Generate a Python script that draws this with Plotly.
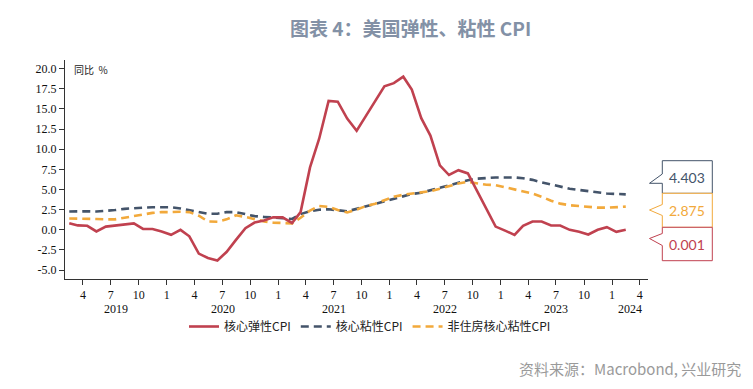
import pandas as pd
import plotly.graph_objects as go

# ---------------- data ----------------
start_month = "2019-02-01"
n_months = 61
dates = pd.date_range(start_month, periods=n_months, freq="MS") + pd.Timedelta(days=14)

core_flexible = [0.83, 0.55, 0.5, -0.2, 0.4, 0.53, 0.65, 0.8, 0.12, 0.1,
                 -0.2, -0.62, 0.0, -0.8, -2.95, -3.5, -3.8, -2.75, -1.25, 0.2,
                 0.9, 1.15, 1.55, 1.55, 0.85, 2.2, 7.75, 11.3, 16.0, 15.9,
                 13.8, 12.3, 14.1, 16.0, 17.8, 18.2, 19.0, 17.4, 13.85, 11.7,
                 8.0, 6.8, 7.4, 7.0, 4.8, 2.6, 0.4, -0.1, -0.62, 0.5,
                 1.03, 1.03, 0.54, 0.54, 0.0, -0.25, -0.58, 0.0, 0.33, -0.25,
                 0.001]
core_sticky = [2.27, 2.3, 2.3, 2.27, 2.35, 2.45, 2.6, 2.7, 2.75, 2.8,
               2.8, 2.8, 2.65, 2.45, 2.15, 2.0, 2.0, 2.2, 2.2, 1.9,
               1.7, 1.6, 1.55, 1.45, 1.35, 1.95, 2.3, 2.5, 2.55, 2.45,
               2.3, 2.6, 2.9, 3.2, 3.5, 3.8, 4.2, 4.45, 4.6, 4.9,
               5.3, 5.55, 5.9, 6.15, 6.35, 6.45, 6.5, 6.5, 6.5, 6.4,
               6.2, 5.9, 5.6, 5.35, 5.1, 4.95, 4.78, 4.65, 4.5, 4.45,
               4.403]
core_sticky_ex_shelter = [1.4, 1.4, 1.38, 1.35, 1.3, 1.3, 1.5, 1.75, 1.9, 2.1,
                          2.2, 2.2, 2.25, 2.2, 1.75, 1.05, 1.0, 1.3, 1.8, 1.6,
                          1.3, 1.05, 0.9, 0.85, 0.8, 1.5, 2.4, 2.95, 2.85, 2.45,
                          2.15, 2.5, 2.95, 3.25, 3.65, 4.1, 4.35, 4.5, 4.6, 4.8,
                          5.1, 5.4, 5.75, 5.95, 5.75, 5.6, 5.55, 5.3, 5.05, 4.8,
                          4.5, 4.1, 3.6, 3.25, 3.05, 2.95, 2.85, 2.75, 2.75, 2.85,
                          2.875]

series_names = ["核心弹性CPI", "核心粘性CPI", "非住房核心粘性CPI"]
series_colors = ["#C0414F", "#44546A", "#F2A93B"]

y_tick_vals = [-5.0, -2.5, 0.0, 2.5, 5.0, 7.5, 10.0, 12.5, 15.0, 17.5, 20.0]
y_tick_text = ["-5.0", "-2.5", "0.0", "2.5", "5.0", "7.5", "10.0", "12.5", "15.0", "17.5", "20.0"]
x_tick_vals = pd.date_range("2019-04-01", "2024-04-01", freq="3MS")
x_tick_text = [str(d.month) for d in x_tick_vals]
years = [2019, 2020, 2021, 2022, 2023, 2024]

x_range = ["2019-02-01", "2024-04-28"]
y_range = [-6.1, 21.07]

title_text = "图表 4：美国弹性、粘性 CPI"
source_text = "资料来源：Macrobond, 兴业研究"
unit_text = "同比  %"

# ---------------- figure ----------------
# page has an 8px body margin; lay out in page pixels
PAGE_W, PAGE_H, OFF = 753, 389, 8
W, H = PAGE_W - OFF, PAGE_H - OFF
PLOT_L, PLOT_R, PLOT_T, PLOT_B = 65, 648, 60, 279   # page pixels
ML, MT = PLOT_L - OFF, PLOT_T - OFF
MR, MB = W - (PLOT_R - OFF), H - (PLOT_B - OFF)
PW, PH = PLOT_R - PLOT_L, PLOT_B - PLOT_T

def px(xp):
    return (xp - PLOT_L) / PW

def py(yp):
    return (PLOT_B - yp) / PH

fig = go.Figure()
values = [core_flexible, core_sticky, core_sticky_ex_shelter]
dashes = ["solid", "8px,5px", "8px,5px"]
draw_order = [1, 2, 0]
for k in draw_order:
    fig.add_trace(go.Scatter(
        x=dates, y=values[k], mode="lines", name=series_names[k],
        line=dict(color=series_colors[k], width=2.6, dash=dashes[k]),
        legendrank=k + 1, hoverinfo="skip"))

serif = "Liberation Serif"
cjk = "Noto Sans CJK SC"

fig.update_layout(
    width=W, height=H,
    margin=dict(l=ML, r=MR, t=MT, b=MB, autoexpand=False),
    paper_bgcolor="white", plot_bgcolor="white",
    showlegend=True,
    legend=dict(orientation="h", x=px(370), xanchor="center", y=py(326.5), yanchor="middle",
                font=dict(family=cjk, size=12, color="#222"), itemwidth=30,
                tracegroupgap=0, bgcolor="rgba(0,0,0,0)"),
    xaxis=dict(type="date", range=x_range, tickvals=x_tick_vals, ticktext=x_tick_text,
               ticks="outside", ticklen=5, tickcolor="#333", showline=True,
               linecolor="#333", linewidth=1, showgrid=False, zeroline=False,
               tickfont=dict(family=serif, size=12, color="#111")),
    yaxis=dict(range=y_range, tickvals=y_tick_vals, ticktext=y_tick_text,
               ticks="outside", ticklen=5, tickcolor="#333", showline=True,
               linecolor="#333", linewidth=1, showgrid=False, zeroline=False,
               tickfont=dict(family=serif, size=12, color="#111")),
)

annotations = []
# year labels centred on each year's visible span
x0 = pd.Timestamp(x_range[0]); x1 = pd.Timestamp(x_range[1])
for yr in years:
    a = max(pd.Timestamp(f"{yr}-01-01"), x0)
    b = min(pd.Timestamp(f"{yr + 1}-01-01"), x1)
    mid = a + (b - a) / 2
    annotations.append(dict(x=mid, y=py(309), xref="x", yref="paper", text=str(yr),
                            showarrow=False, font=dict(family=serif, size=12, color="#111"),
                            xanchor="center", yanchor="middle"))

annotations.append(dict(x=px(72), y=py(69), xref="paper", yref="paper", text=unit_text,
                        showarrow=False, xanchor="left", yanchor="middle",
                        font=dict(family=cjk, size=10, color="#222")))
annotations.append(dict(x=px(410), y=py(27), xref="paper", yref="paper",
                        text="<b>" + title_text + "</b>", showarrow=False,
                        xanchor="center", yanchor="middle",
                        font=dict(family=cjk, size=19, color="#8391A6")))
annotations.append(dict(x=px(743), y=py(368), xref="paper", yref="paper",
                        text=source_text, showarrow=False, xanchor="right", yanchor="middle",
                        font=dict(family=cjk, size=15, color="#9A9A9A")))

# value callouts on the right (last values)
box_left, box_right, tip_x = 662.3, 712.3, 649.5
boxes = [  # (top, bottom, notch_top, tip_y, notch_bottom) in page pixels
    (160.7, 193.3, 174.0, 183.3, 183.3),
    (193.3, 227.3, 204.5, 210.0, 215.5),
    (227.3, 260.7, 233.5, 238.5, 245.5),
]
label_series = [1, 2, 0]
shapes = []
for (top, bot, nt, ty, nb), k in zip(boxes, label_series):
    path = (f"M {px(box_left)},{py(top)} L {px(box_right)},{py(top)} "
            f"L {px(box_right)},{py(bot)} L {px(box_left)},{py(bot)} "
            f"L {px(box_left)},{py(nb)} L {px(tip_x)},{py(ty)} "
            f"L {px(box_left)},{py(nt)} Z")
    shapes.append(dict(type="path", xref="paper", yref="paper", path=path,
                       fillcolor="white", line=dict(color=series_colors[k], width=1),
                       layer="above"))
    last_val = values[k][-1]
    annotations.append(dict(x=px((box_left + box_right) / 2), y=py((top + bot) / 2),
                            xref="paper", yref="paper", text=f"{last_val:.3f}",
                            showarrow=False, xanchor="center", yanchor="middle",
                            font=dict(family="Lato", size=14, color=series_colors[k])))

fig.update_layout(annotations=annotations, shapes=shapes)
fig.write_html("out.html")
